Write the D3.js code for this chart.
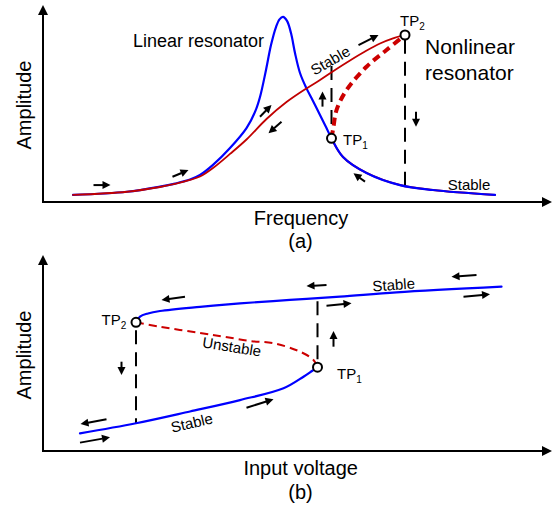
<!DOCTYPE html>
<html>
<head>
<meta charset="utf-8">
<script src="https://cdn.jsdelivr.net/npm/d3@7"></script>
<style>
  html, body { margin: 0; padding: 0; background: #fff; }
  svg { display: block; }
  text { font-family: Arial, "Liberation Sans", sans-serif; fill: #000; }
</style>
</head>
<body>
<svg id="chart" width="553" height="506"></svg>
<script>
// ---------- (a) amplitude vs frequency ----------
// Linear resonator response (frequency, amplitude)
const linearResponse = [
  [6.0, 3.7], [16.8, 5.4], [23.4, 8.1], [26.4, 9.7], [29.4, 11.8], [31.4, 14.2],
  [34.0, 19.5], [37.4, 28.4], [40.7, 38.9], [42.4, 47.4], [43.4, 55.3], [44.6, 69.5],
  [45.6, 82.6], [46.6, 92.1], [47.3, 96.1], [48.0, 97.4], [48.8, 95.3], [49.6, 88.9],
  [50.4, 78.4], [51.4, 67.9], [52.7, 59.8], [54.0, 53.2], [55.4, 45.8], [56.6, 39.5],
  [57.7, 33.5], [60.0, 23.7], [64.7, 15.3], [71.4, 8.9], [78.0, 6.3], [90.4, 3.7]
];
// Nonlinear resonator: upper stable branch up to TP2
const nonlinearUpper = [
  [6.0, 3.7], [16.8, 5.4], [23.4, 7.9], [26.4, 9.5], [29.4, 11.6], [31.4, 13.4],
  [34.0, 17.9], [37.4, 25.3], [40.7, 32.9], [44.7, 43.7], [48.7, 52.6], [52.7, 59.8],
  [55.4, 64.2], [58.4, 69.5], [61.4, 74.5], [64.4, 79.2], [67.4, 83.4], [70.0, 86.1],
  [72.4, 87.9]
];
// Nonlinear resonator: lower stable branch from TP1
const nonlinearLower = [
  [57.7, 33.5], [60.0, 23.7], [64.7, 15.3], [71.4, 8.9], [78.0, 6.3], [90.4, 3.7]
];
// Nonlinear resonator: unstable branch TP1 -> TP2
const nonlinearUnstable = [
  [57.7, 33.5], [58.1, 39.6], [58.7, 48.4], [60.7, 58.9], [64.7, 71.2], [68.7, 80.0], [72.4, 87.9]
];
const turningPointsA = [
  { name: "1", f: 57.7, a: 33.5 },
  { name: "2", f: 72.4, a: 87.9 }
];
// jumps: [frequency, from amplitude, to amplitude]
const jumpsA = [[57.7, 33.5, 71.6], [72.4, 87.9, 8.6]];
// direction arrows: [x1, y1, x2, y2] (tail -> head)
const arrowsA = [
  [10.1, 8.9, 13.5, 8.9], [25.9, 13.3, 29.1, 16.8], [43.4, 44.9, 45.7, 51.1],
  [47.7, 42.3, 45.1, 36.2], [55.9, 50.2, 55.9, 58.1], [74.6, 47.5, 74.6, 39.6],
  [64.4, 10.7, 62.1, 15.1], [63.1, 82.6, 67.1, 87.9]
];

// ---------- (b) amplitude vs input voltage ----------
const lowerBranchB = [
  [7.4, 9.3], [18.6, 14.6], [29.4, 20.8], [39.4, 26.8], [48.1, 33.0], [52.1, 39.1],
  [53.8, 42.1], [54.9, 44.1]
];
const upperBranchB = [
  [18.6, 67.7], [19.4, 70.7], [21.0, 72.4], [23.4, 73.7], [31.4, 75.9], [39.4, 77.7],
  [49.4, 79.5], [59.4, 81.2], [70.7, 83.5], [91.7, 86.5]
];
const unstableBranchB = [
  [18.6, 67.7], [23.4, 65.4], [31.4, 62.1], [36.1, 60.2], [41.4, 57.9], [46.1, 56.7],
  [51.4, 52.3], [54.1, 47.9], [54.9, 44.1]
];
const turningPointsB = [
  { name: "2", v: 18.6, a: 67.7 },
  { name: "1", v: 54.9, a: 44.1 }
];
const jumpsB = [[18.6, 67.7, 14.6], [54.9, 44.1, 79.5]];
const arrowsB = [
  [28.4, 81.2, 23.7, 79.5], [15.7, 47.0, 15.7, 40.0], [12.7, 16.7, 7.5, 14.2],
  [7.4, 4.4, 13.4, 7.2], [40.7, 22.8, 46.1, 27.2], [58.1, 54.9, 58.1, 63.2],
  [56.7, 87.4, 52.7, 86.8], [56.7, 76.5, 61.7, 77.7], [86.7, 92.6, 81.7, 91.7],
  [84.1, 81.2, 89.4, 82.5]
];

// ---------- drawing ----------
const BLUE = "#0000ff", RED = "#c00000", RED_DASH = "#cc0000";
const svg = d3.select("#chart");

const xA = d3.scaleLinear().domain([0, 100]).range([43, 543]);
const yA = d3.scaleLinear().domain([0, 100]).range([202, 12]);
const xB = d3.scaleLinear().domain([0, 100]).range([43, 543]);
const yB = d3.scaleLinear().domain([0, 100]).range([451, 261]);

function drawArrow(g, x1, y1, x2, y2, len, wid, sw) {
  const dx = x2 - x1, dy = y2 - y1, L = Math.hypot(dx, dy);
  const ux = dx / L, uy = dy / L;
  const bx = x2 - ux * len, by = y2 - uy * len;
  g.append("line")
    .attr("x1", x1).attr("y1", y1).attr("x2", bx + ux * 0.5).attr("y2", by + uy * 0.5)
    .attr("stroke", "#000").attr("stroke-width", sw);
  g.append("path")
    .attr("d", `M${x2},${y2}L${bx - uy * wid / 2},${by + ux * wid / 2}L${bx + uy * wid / 2},${by - ux * wid / 2}Z`)
    .attr("fill", "#000");
}

function panel(x, y, cfg) {
  const g = svg.append("g");
  const [x0] = x.range();
  const yBase = y(0);
  // axes with arrow tips
  drawArrow(g, x0, yBase, cfg.xTip, yBase, 10, 10, 2);
  drawArrow(g, x0, yBase + 1, x0, cfg.yTip, 10, 10, 2);
  return g;
}

function curve(g, data, x, y, color, width, dash) {
  const line = d3.line().x(d => x(d[0])).y(d => y(d[1])).curve(d3.curveCatmullRom.alpha(0.5));
  const p = g.append("path").datum(data).attr("d", line)
    .attr("fill", "none").attr("stroke", color).attr("stroke-width", width)
    .attr("stroke-linecap", dash ? "butt" : "round").attr("stroke-linejoin", "round");
  if (dash) p.attr("stroke-dasharray", dash);
  return p;
}

function tpLabel(g, px, py, sub) {
  const t = g.append("text").attr("x", px).attr("y", py).attr("font-size", 15);
  t.append("tspan").text("TP");
  t.append("tspan").attr("font-size", 10).attr("dy", 4).text(sub);
}

function label(g, text, cx, cy, size, angle, anchor) {
  g.append("text")
    .attr("transform", `translate(${cx},${cy}) rotate(${angle || 0})`)
    .attr("text-anchor", anchor || "middle")
    .attr("font-size", size)
    .text(text);
}

// ----- panel (a) -----
const gA = panel(xA, yA, { xTip: 552, yTip: 5 });
jumpsA.forEach(j => {
  gA.append("line").attr("x1", xA(j[0])).attr("x2", xA(j[0]))
    .attr("y1", yA(j[2])).attr("y2", yA(j[1]))
    .attr("stroke", "#000").attr("stroke-width", 2).attr("stroke-dasharray", "14,8");
});
curve(gA, nonlinearLower, xA, yA, RED, 2);
curve(gA, linearResponse, xA, yA, BLUE, 2.2);
curve(gA, nonlinearUpper, xA, yA, RED, 1.8);
curve(gA, nonlinearUnstable, xA, yA, RED_DASH, 4, "8,5");
arrowsA.forEach(a => drawArrow(gA, xA(a[0]), yA(a[1]), xA(a[2]), yA(a[3]), 8, 8, 2));
turningPointsA.forEach(t => {
  gA.append("circle").attr("cx", xA(t.f)).attr("cy", yA(t.a)).attr("r", 4.5)
    .attr("fill", "#fff").attr("stroke", "#000").attr("stroke-width", 2);
});
tpLabel(gA, 343, 144.5, "1");
tpLabel(gA, 400, 25.5, "2");
gA.append("text").attr("x", 133).attr("y", 46.5).attr("font-size", 18).text("Linear resonator");
gA.append("text").attr("x", 425).attr("y", 54).attr("font-size", 21).text("Nonlinear");
gA.append("text").attr("x", 425).attr("y", 80).attr("font-size", 21).text("resonator");
label(gA, "Stable", 333, 65, 15, -30);
label(gA, "Stable", 469, 189.5, 15, 0);
label(gA, "Amplitude", 31, 105, 20, -90);
label(gA, "Frequency", 301, 225, 20, 0);
label(gA, "(a)", 300.5, 248, 20, 0);

// ----- panel (b) -----
const gB = panel(xB, yB, { xTip: 552, yTip: 255 });
jumpsB.forEach(j => {
  gB.append("line").attr("x1", xB(j[0])).attr("x2", xB(j[0]))
    .attr("y1", yB(j[1])).attr("y2", yB(j[2]))
    .attr("stroke", "#000").attr("stroke-width", 2).attr("stroke-dasharray", "14,8")
    .attr("stroke-dashoffset", -8);
});
curve(gB, unstableBranchB, xB, yB, RED_DASH, 2, "8,5");
curve(gB, lowerBranchB, xB, yB, BLUE, 2.2);
curve(gB, upperBranchB, xB, yB, BLUE, 2.2);
arrowsB.forEach(a => drawArrow(gB, xB(a[0]), yB(a[1]), xB(a[2]), yB(a[3]), 8, 8, 2));
turningPointsB.forEach(t => {
  gB.append("circle").attr("cx", xB(t.v)).attr("cy", yB(t.a)).attr("r", 4.5)
    .attr("fill", "#fff").attr("stroke", "#000").attr("stroke-width", 2);
});
tpLabel(gB, 101.5, 325, "2");
tpLabel(gB, 337, 379, "1");
label(gB, "Stable", 394, 290, 15, -4);
label(gB, "Unstable", 231, 352, 15, 9);
label(gB, "Stable", 193, 428, 15, -13);
label(gB, "Amplitude", 31, 355, 20, -90);
label(gB, "Input voltage", 300.7, 474.5, 20, 0);
label(gB, "(b)", 300.5, 498.5, 20, 0);
</script>
</body>
</html>
